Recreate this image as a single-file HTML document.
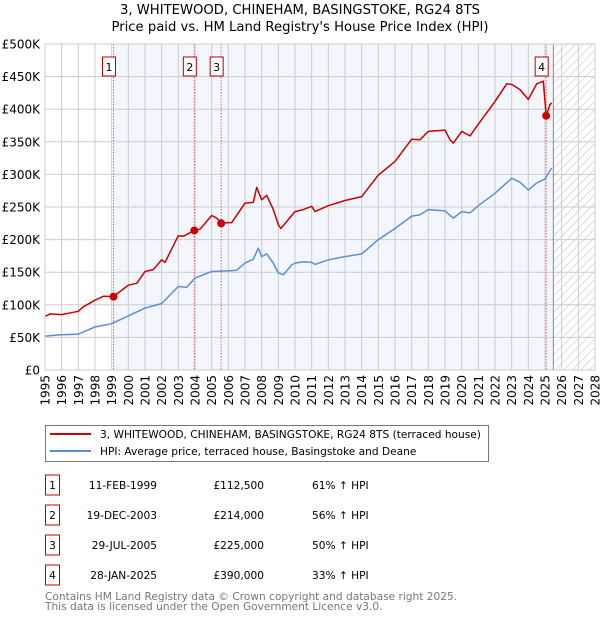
<!DOCTYPE html>
<html><head><meta charset="utf-8"><style>
body{margin:0;background:#fff;font-family:"DejaVu Sans","Liberation Sans",sans-serif;}
#wrap{position:relative;width:600px;height:620px;overflow:hidden;}
svg{position:absolute;left:0;top:0}
</style></head><body>
<div id="wrap">
<svg id="chart" width="600" height="620"></svg>
</div>
<script>
const yearTicks=[1995,1996,1997,1998,1999,2000,2001,2002,2003,2004,2005,2006,2007,2008,2009,2010,2011,2012,2013,2014,2015,2016,2017,2018,2019,2020,2021,2022,2023,2024,2025,2026,2027,2028];
const valueTicks=[0,50,100,150,200,250,300,350,400,450,500];
const valueTickLabels=["£0","£50K","£100K","£150K","£200K","£250K","£300K","£350K","£400K","£450K","£500K"];
const hpiYears=[1995,1996,1997,1998,1999,2000,2001,2002,2003,2003.5,2004,2005,2006,2006.5,2007,2007.5,2007.8,2008,2008.3,2008.7,2009,2009.3,2009.8,2010,2010.5,2011,2011.2,2012,2013,2014,2015,2016,2017,2017.5,2018,2019,2019.5,2020,2020.5,2021,2022,2023,2023.5,2024,2024.5,2025,2025.4];
const hpiValues=[52,54,55,66,71,83,95,102,128,127,141,151,152,153,164,170,187,174,178,164,149,146,161,164,166,165,162,169,174,178,200,217,236,238,246,244,233,243,241,252,271,294,288,276,287,293,310];
const priceYears=[1995,1995.3,1996,1997,1997.3,1998,1998.5,1999.1,2000,2000.5,2001,2001.5,2002,2002.2,2003,2003.3,2003.95,2004.3,2005,2005.3,2005.6,2006,2006.2,2007,2007.5,2007.7,2008,2008.3,2008.7,2009,2009.15,2010,2010.5,2011,2011.2,2012,2013,2014,2015,2016,2017,2017.5,2018,2019,2019.3,2019.5,2020,2020.5,2021,2022,2022.7,2023,2023.5,2024,2024.5,2024.9,2025.07,2025.3,2025.4];
const priceValues=[82,86,85,90,97,107,113,112.5,130,133,151,154,169,165,206,205,214,216,237,233,225,226,226,256,257,280,261,268,246,223,217,243,246,251,243,252,260,266,299,320,354,353,366,368,353,348,366,359,377,412,439,438,430,415,439,443,390,407,410];
const saleLabels=["1","2","3","4"];
const saleYears=[1999.11,2003.96,2005.57,2025.07];
const saleValues=[112.5,214,225,390];
const saleDates=["11-FEB-1999","19-DEC-2003","29-JUL-2005","28-JAN-2025"];
const salePrices=["£112,500","£214,000","£225,000","£390,000"];
const saleHpi=["61% ↑ HPI","56% ↑ HPI","50% ↑ HPI","33% ↑ HPI"];
const forecastStart=2025.5;

const NS="http://www.w3.org/2000/svg";
const svg=document.getElementById('chart');
const X0=45,X1=595,Y0=370,Y1=44;
const xs=y=>X0+(y-1995)/(2028-1995)*(X1-X0);
const ys=v=>Y0-v/500*(Y0-Y1);
function mk(tag,attrs,parent){const e=document.createElementNS(NS,tag);for(const k in attrs)e.setAttribute(k,attrs[k]);(parent||svg).appendChild(e);return e;}

const defs=mk('defs',{});
const pat=mk('pattern',{id:'hatch',width:6,height:6,patternUnits:'userSpaceOnUse',patternTransform:'rotate(45)'},defs);
mk('line',{x1:0,y1:0,x2:0,y2:6,stroke:'#bbb','stroke-width':1},pat);

let r=mk('rect',{x:xs(saleYears[0]),y:Y1,width:xs(forecastStart)-xs(saleYears[0]),height:Y0-Y1,fill:'#f3f6fd'});


r=mk('rect',{x:xs(forecastStart),y:Y1,width:X1-xs(forecastStart),height:Y0-Y1,fill:'url(#hatch)'});



yearTicks.forEach(y=>{
  const l=mk('line',{x1:xs(y),x2:xs(y),y1:Y1,y2:Y0,stroke:'#cccccc','stroke-width':1});
  
  
  const t=mk('text',{x:0,y:0,transform:`translate(${xs(y)+4.5},${Y0+5}) rotate(-90)`,'text-anchor':'end','font-size':12,fill:'#000'});
  t.textContent=y;
  
  
});
valueTicks.forEach((v,i)=>{
  const l=mk('line',{x1:X0,x2:X1,y1:ys(v),y2:ys(v),stroke:'#cccccc','stroke-width':1});
  
  
  const t=mk('text',{x:40,y:ys(v)+4.5,'text-anchor':'end','font-size':12,fill:'#000'});
  t.textContent=valueTickLabels[i];
  
  
});
let fl=mk('line',{x1:xs(forecastStart),x2:xs(forecastStart),y1:Y1,y2:Y0,stroke:'#888','stroke-width':1});



saleYears.forEach((y,i)=>{
  const l=mk('line',{x1:xs(y),x2:xs(y),y1:Y1,y2:Y0,stroke:'#e86868','stroke-width':1,'stroke-dasharray':'1.5,1.5'});
  
  
  const g=mk('g',{});
  
  
  mk('rect',{x:xs(y)-11,y:57,width:13,height:19,fill:'#fff',stroke:'#c00000','stroke-width':1},g);
  const t=mk('text',{x:xs(y)-4.5,y:71,'text-anchor':'middle','font-size':11},g);
  t.textContent=saleLabels[i];
});

function path(xsArr,vs,color,name){
  const d=xsArr.map((y,i)=>(i?'L':'M')+xs(y).toFixed(1)+','+ys(vs[i]).toFixed(1)).join(' ');
  const p=mk('path',{d:d,fill:'none',stroke:color,'stroke-width':1.5,'stroke-linejoin':'round'});
  
  
}
path(hpiYears,hpiValues,'#5b8fd4','hpi-line');
path(priceYears,priceValues,'#cc0000','price-line');
saleYears.forEach((y,i)=>{
  const c=mk('circle',{cx:xs(y),cy:ys(saleValues[i]),r:4,fill:'#cc0000'});
  
  
});
let bd=mk('rect',{x:X0,y:Y1,width:X1-X0,height:Y0-Y1,fill:'none',stroke:'#ccc'});



[["3, WHITEWOOD, CHINEHAM, BASINGSTOKE, RG24 8TS",14],["Price paid vs. HM Land Registry's House Price Index (HPI)",31]].forEach((a,i)=>{
  const t=mk('text',{x:300,y:a[1],'text-anchor':'middle','font-size':13.2});
  t.textContent=a[0];
  
  
});

const lg=mk('g',{});


mk('rect',{x:45.5,y:425.5,width:443,height:36,fill:'#fff',stroke:'#777'},lg);
[["3, WHITEWOOD, CHINEHAM, BASINGSTOKE, RG24 8TS (terraced house)",'#cc0000',434],["HPI: Average price, terraced house, Basingstoke and Deane",'#5b8fd4',451]].forEach((a,i)=>{
  const g=mk('g',{},lg);
  
  
  mk('line',{x1:50,x2:91,y1:a[2],y2:a[2],stroke:a[1],'stroke-width':2},g);
  const t=mk('text',{x:100,y:a[2]+4,'font-size':10.6},g);
  t.textContent=a[0];
});

saleLabels.forEach((s,i)=>{
  const cy=483+i*30;
  const g=mk('g',{});
  
  
  mk('rect',{x:45.5,y:cy-8,width:14,height:20,fill:'#fff',stroke:'#c00000'},g);
  let t=mk('text',{x:52.5,y:cy+6,'text-anchor':'middle','font-size':10.6},g);t.textContent=s;
  t=mk('text',{x:157,y:cy+6,'text-anchor':'end','font-size':10.6},g);t.textContent=saleDates[i];
  t=mk('text',{x:264,y:cy+6,'text-anchor':'end','font-size':10.6},g);t.textContent=salePrices[i];
  t=mk('text',{x:312,y:cy+6,'font-size':10.6},g);t.textContent=saleHpi[i];
});
[["Contains HM Land Registry data © Crown copyright and database right 2025.",600],["This data is licensed under the Open Government Licence v3.0.",610]].forEach(a=>{
  const t=mk('text',{x:45,y:a[1],'font-size':10.6,fill:'#777'});
  t.textContent=a[0];
  
  
});
</script>
</body></html>
